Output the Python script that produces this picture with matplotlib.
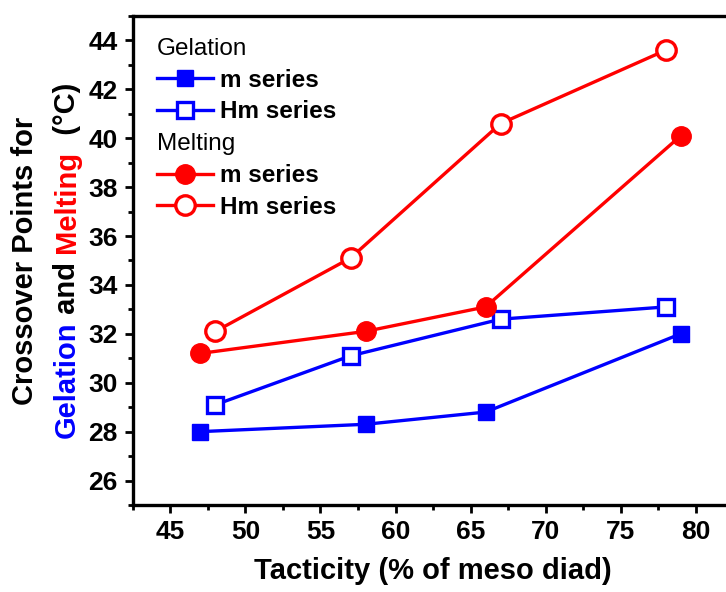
import matplotlib
matplotlib.use("Agg")
import matplotlib.pyplot as plt
from matplotlib.ticker import MultipleLocator

plt.rcParams['font.family'] = ['Liberation Sans', 'DejaVu Sans']

# tacticity (% meso diad)
x_m = [47, 58, 66, 79]
x_hm = [48, 57, 67, 78]

# crossover temperatures (C)
m_gel = [28.0, 28.3, 28.8, 32.0]
hm_gel = [29.1, 31.1, 32.6, 33.1]
m_melt = [31.2, 32.1, 33.1, 40.1]
hm_melt = [32.1, 35.1, 40.6, 43.6]

fig = plt.figure(figsize=(7.26, 5.92), dpi=100)
ax = fig.add_axes([0.183, 0.147, 0.827, 0.826])

lw = 2.4
g1, = ax.plot(x_m, m_gel, '-s', color='blue', lw=lw, ms=12, label='m series')
g2, = ax.plot(x_hm, hm_gel, '-s', color='blue', lw=lw, ms=12, mfc='white', mew=2.4, label='Hm series')
r1, = ax.plot(x_m, m_melt, '-o', color='red', lw=lw, ms=14, label='m series')
r2, = ax.plot(x_hm, hm_melt, '-o', color='red', lw=lw, ms=14, mfc='white', mew=2.4, label='Hm series')

ax.set_xlim(42.5, 82.5)
ax.set_ylim(25, 45)
ax.xaxis.set_major_locator(MultipleLocator(5))
ax.xaxis.set_minor_locator(MultipleLocator(2.5))
ax.yaxis.set_major_locator(MultipleLocator(2))
ax.yaxis.set_minor_locator(MultipleLocator(1))
ax.tick_params(which='major', length=6, width=2, labelsize=19, pad=5)
ax.tick_params(which='minor', length=3.5, width=2)
for lab in ax.get_xticklabels() + ax.get_yticklabels():
    lab.set_fontweight('bold')
for sp in ax.spines.values():
    sp.set_linewidth(2.4)

ax.set_xlabel('Tacticity (% of meso diad)', fontsize=21, fontweight='bold', labelpad=9)

# legends
kw = dict(loc='upper left', frameon=False, fontsize=17.5, handlelength=2.3,
          handletextpad=0.3, labelspacing=0.36, borderpad=0, borderaxespad=0,
          alignment='left', title_fontproperties={'size': 17.5, 'weight': 'normal'})
leg1 = ax.legend([g1, g2], ['m series', 'Hm series'], title='Gelation',
                 bbox_to_anchor=(0.04, 0.955), **kw)
for t in leg1.get_texts():
    t.set_fontweight('bold')
ax.add_artist(leg1)
leg2 = ax.legend([r1, r2], ['m series', 'Hm series'], title='Melting',
                 bbox_to_anchor=(0.04, 0.76), **kw)
for t in leg2.get_texts():
    t.set_fontweight('bold')

# two-line y label with coloured words
def vertical_text(x, parts):
    first = fig.text(x, 0.5, parts[0][0], color=parts[0][1], rotation=90,
                     ha='center', va='bottom', fontsize=21, fontweight='bold')
    texts = [first]
    prev = first
    for s, c in parts[1:]:
        prev = ax.annotate(s, xy=(0.5, 1), xycoords=prev, rotation=90,
                           ha='center', va='bottom', color=c, fontsize=21,
                           fontweight='bold', annotation_clip=False)
        texts.append(prev)
    return first, texts

line1 = vertical_text(0.035, [('Crossover Points for', 'black')])
line2 = vertical_text(0.092, [('Gelation', 'blue'), (' and ', 'black'),
                              ('Melting', 'red'), ('  (°C)', 'black')])

fig.canvas.draw()
r = fig.canvas.get_renderer()
ymid = (ax.get_window_extent().y0 + ax.get_window_extent().y1) / 2
for first, texts in (line1, line2):
    bbs = [t.get_window_extent(r) for t in texts]
    y0 = min(b.y0 for b in bbs)
    y1 = max(b.y1 for b in bbs)
    shift = ymid - (y0 + y1) / 2
    first.set_y(first.get_position()[1] + shift / fig.bbox.height)

fig.savefig('out.png', dpi=100)
